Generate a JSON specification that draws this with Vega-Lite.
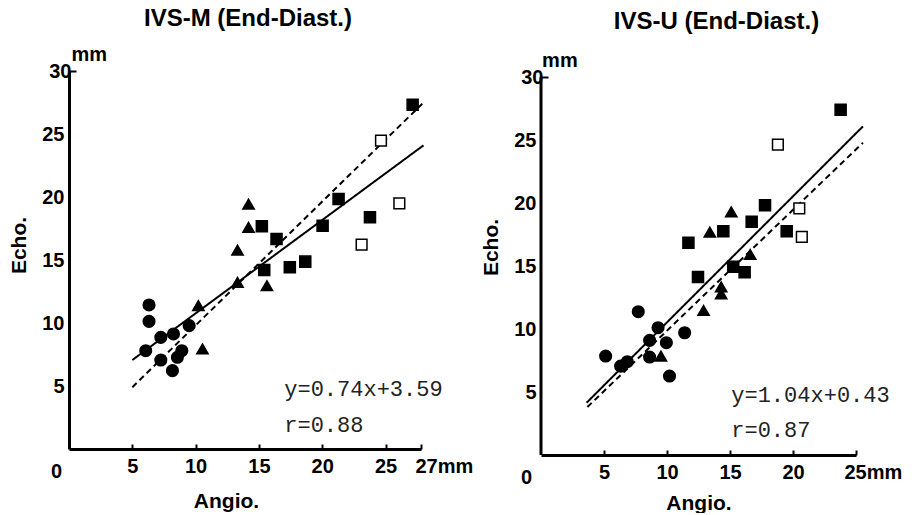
{
  "$schema": "https://vega.github.io/schema/vega-lite/v6.json",
  "background": "white",
  "padding": {"left": 8, "top": 6, "right": 0, "bottom": 0},
  "spacing": 7,
  "config": {
    "view": {"stroke": null},
    "font": "Liberation Sans",
    "axis": {
      "grid": false,
      "domainColor": "black",
      "domainWidth": 3,
      "tickColor": "black",
      "tickWidth": 2,
      "labelFont": "Liberation Sans",
      "labelFontWeight": "bold",
      "labelFontSize": 20,
      "labelColor": "black",
      "titleFont": "Liberation Sans",
      "titleFontWeight": "bold",
      "titleFontSize": 21,
      "titleColor": "black",
      "labelOverlap": false,
      "labelFlush": false,
      "labelBound": false
    },
    "title": {"font": "Liberation Sans", "fontSize": 24, "fontWeight": "bold", "color": "black", "anchor": "middle"}
  },
  "datasets": {
    "leftPts": [
      {"g": "circle", "x": 6.32, "y": 11.43},
      {"g": "circle", "x": 6.32, "y": 10.13},
      {"g": "circle", "x": 6.06, "y": 7.8},
      {"g": "circle", "x": 7.25, "y": 8.86},
      {"g": "circle", "x": 7.25, "y": 7.06},
      {"g": "circle", "x": 8.25, "y": 9.13},
      {"g": "circle", "x": 8.17, "y": 6.22},
      {"g": "circle", "x": 8.56, "y": 7.28},
      {"g": "circle", "x": 8.91, "y": 7.8},
      {"g": "circle", "x": 9.49, "y": 9.79},
      {"g": "triangle", "x": 10.22, "y": 11.38},
      {"g": "triangle", "x": 10.54, "y": 7.94},
      {"g": "triangle", "x": 13.31, "y": 13.23},
      {"g": "triangle", "x": 13.31, "y": 15.79},
      {"g": "triangle", "x": 14.18, "y": 17.59},
      {"g": "triangle", "x": 14.18, "y": 19.44},
      {"g": "triangle", "x": 15.63, "y": 12.96},
      {"g": "square", "x": 15.23, "y": 17.67},
      {"g": "square", "x": 16.39, "y": 16.67},
      {"g": "square", "x": 15.42, "y": 14.21},
      {"g": "square", "x": 17.44, "y": 14.42},
      {"g": "square", "x": 18.66, "y": 14.87},
      {"g": "square", "x": 20.03, "y": 17.72},
      {"g": "square", "x": 21.29, "y": 19.84},
      {"g": "square", "x": 23.77, "y": 18.39},
      {"g": "square", "x": 27.14, "y": 27.33},
      {"g": "open", "x": 24.64, "y": 24.47},
      {"g": "open", "x": 26.09, "y": 19.5},
      {"g": "open", "x": 23.11, "y": 16.22}
    ],
    "rightPts": [
      {"g": "circle", "x": 5.13, "y": 7.86},
      {"g": "circle", "x": 6.32, "y": 7.06},
      {"g": "circle", "x": 6.85, "y": 7.41},
      {"g": "circle", "x": 7.72, "y": 11.38},
      {"g": "circle", "x": 8.62, "y": 9.1},
      {"g": "circle", "x": 8.62, "y": 7.78},
      {"g": "circle", "x": 9.29, "y": 10.11},
      {"g": "circle", "x": 9.95, "y": 8.92},
      {"g": "circle", "x": 10.2, "y": 6.27},
      {"g": "circle", "x": 11.4, "y": 9.71},
      {"g": "triangle", "x": 9.52, "y": 7.86},
      {"g": "triangle", "x": 12.9, "y": 11.48},
      {"g": "triangle", "x": 14.3, "y": 13.36},
      {"g": "triangle", "x": 14.3, "y": 12.8},
      {"g": "triangle", "x": 13.4, "y": 17.7},
      {"g": "triangle", "x": 15.1, "y": 19.31},
      {"g": "triangle", "x": 16.6, "y": 15.93},
      {"g": "square", "x": 11.7, "y": 16.85},
      {"g": "square", "x": 12.46, "y": 14.13},
      {"g": "square", "x": 14.47, "y": 17.78},
      {"g": "square", "x": 15.26, "y": 14.95},
      {"g": "square", "x": 16.16, "y": 14.52},
      {"g": "square", "x": 16.72, "y": 18.52},
      {"g": "square", "x": 17.78, "y": 19.84},
      {"g": "square", "x": 19.5, "y": 17.78},
      {"g": "square", "x": 23.78, "y": 27.43},
      {"g": "open", "x": 18.8, "y": 24.66},
      {"g": "open", "x": 20.5, "y": 19.58},
      {"g": "open", "x": 20.7, "y": 17.33}
    ],
    "leftLines": [
      {"kind": "fit", "x": 5, "y": 7.06},
      {"kind": "fit", "x": 28.0, "y": 24.1},
      {"kind": "identity", "x": 5, "y": 4.9},
      {"kind": "identity", "x": 27.9, "y": 27.4}
    ],
    "rightLines": [
      {"kind": "fit", "x": 3.62, "y": 4.15},
      {"kind": "fit", "x": 25.55, "y": 26.1},
      {"kind": "identity", "x": 3.68, "y": 3.81},
      {"kind": "identity", "x": 25.55, "y": 24.8}
    ],
    "leftText": [
      {"x": 17.0, "y": 4.76, "t": "y=0.74x+3.59"},
      {"x": 17.0, "y": 1.9, "t": "r=0.88"}
    ],
    "rightText": [
      {"x": 15.1, "y": 4.76, "t": "y=1.04x+0.43"},
      {"x": 15.1, "y": 1.98, "t": "r=0.87"}
    ],
    "leftUnit": [{"x": 1.6, "y": 31.3, "t": "mm"}],
    "rightUnit": [{"x": 1.5, "y": 31.3, "t": "mm"}],
    "rightAxisLine": [{"x": 0, "y": 0, "y2": 30}]
  },
  "hconcat": [
    {
      "width": 352,
      "height": 378,
      "title": {"text": "IVS-M (End-Diast.)", "offset": 14, "dx": 3},
      "layer": [
        {
          "data": {"name": "leftLines"},
          "mark": {"type": "line", "color": "black", "strokeWidth": 2, "clip": false},
          "encoding": {
            "x": {
              "field": "x", "type": "quantitative",
              "scale": {"domain": [0, 27.8], "nice": false, "zero": true},
              "axis": {
                "title": "Angio.",
                "titleX": 157,
                "values": [0, 5, 10, 15, 20, 25, 27.8],
                "labelExpr": "datum.value > 27 ? '27mm' : datum.label",
                "tickSize": {"condition": {"test": "datum.value == 0", "value": 0}, "value": -5},
                "labelPadding": 12,
                "labelAlign": {"condition": {"test": "datum.value > 27", "value": "left"}, "value": "center"},
                "labelOffset": {"condition": [{"test": "datum.value == 0", "value": -13}, {"test": "datum.value > 27", "value": -6}], "value": 0},
                "titlePadding": 9
              }
            },
            "y": {
              "field": "y", "type": "quantitative",
              "scale": {"domain": [0, 30], "nice": false, "zero": true},
              "axis": {
                "title": "Echo.",
                "titleY": 174,
                "values": [5, 10, 15, 20, 25, 30],
                "tickSize": {"condition": {"test": "datum.value == 30", "value": -7}, "value": 0},
                "labelPadding": 5,
                "titlePadding": 12
              }
            },
            "strokeDash": {"field": "kind", "type": "nominal", "scale": {"domain": ["fit", "identity"], "range": [[1, 0], [6, 4]]}, "legend": null}
          }
        },
        {
          "data": {"name": "leftPts"},
          "mark": {"type": "point", "filled": true, "stroke": "black", "strokeWidth": 1.5, "opacity": 1},
          "encoding": {
            "x": {"field": "x", "type": "quantitative"},
            "y": {"field": "y", "type": "quantitative"},
            "shape": {"field": "g", "type": "nominal", "scale": {"domain": ["circle", "triangle", "square", "open"], "range": ["circle", "triangle-up", "square", "square"]}, "legend": null},
            "fill": {"field": "g", "type": "nominal", "scale": {"domain": ["circle", "triangle", "square", "open"], "range": ["black", "black", "black", "white"]}, "legend": null},
            "size": {"field": "g", "type": "ordinal", "scale": {"domain": ["circle", "triangle", "square", "open"], "range": [135, 115, 150, 130]}, "legend": null}
          }
        },
        {
          "data": {"name": "leftText"},
          "mark": {"type": "text", "align": "left", "baseline": "middle", "font": "Liberation Mono", "fontSize": 22, "color": "#222"},
          "encoding": {
            "x": {"field": "x", "type": "quantitative"},
            "y": {"field": "y", "type": "quantitative"},
            "text": {"field": "t"}
          }
        },
        {
          "data": {"name": "leftUnit"},
          "mark": {"type": "text", "align": "center", "baseline": "middle", "font": "Liberation Sans", "fontWeight": "bold", "fontSize": 20, "color": "black"},
          "encoding": {
            "x": {"field": "x", "type": "quantitative"},
            "y": {"field": "y", "type": "quantitative"},
            "text": {"field": "t"}
          }
        }
      ]
    },
    {
      "width": 315,
      "height": 384,
      "title": {"text": "IVS-U (End-Diast.)", "offset": 17, "dx": 18},
      "layer": [
        {
          "data": {"name": "rightLines"},
          "mark": {"type": "line", "color": "black", "strokeWidth": 2, "clip": false},
          "encoding": {
            "x": {
              "field": "x", "type": "quantitative",
              "scale": {"domain": [0, 25], "nice": false, "zero": true},
              "axis": {
                "title": "Angio.",
                "values": [0, 5, 10, 15, 20, 25],
                "labelExpr": "datum.value == 25 ? '25mm' : datum.label",
                "tickSize": {"condition": {"test": "datum.value == 0", "value": 0}, "value": -5},
                "labelPadding": 12,
                "labelAlign": {"condition": {"test": "datum.value == 25", "value": "left"}, "value": "center"},
                "labelOffset": {"condition": [{"test": "datum.value == 0", "value": -15}, {"test": "datum.value == 25", "value": -12}], "value": 0},
                "titlePadding": 5
              }
            },
            "y": {
              "field": "y", "type": "quantitative",
              "scale": {"domain": [0, 30.5], "nice": false, "zero": true},
              "axis": {
                "title": "Echo.",
                "titleY": 176,
                "domain": false,
                "values": [5, 10, 15, 20, 25, 30],
                "tickSize": {"condition": {"test": "datum.value == 30", "value": -7}, "value": 0},
                "labelPadding": 5,
                "titlePadding": 12
              }
            },
            "strokeDash": {"field": "kind", "type": "nominal", "scale": {"domain": ["fit", "identity"], "range": [[1, 0], [6, 4]]}, "legend": null}
          }
        },
        {
          "data": {"name": "rightAxisLine"},
          "mark": {"type": "rule", "color": "black", "strokeWidth": 3},
          "encoding": {
            "x": {"field": "x", "type": "quantitative"},
            "y": {"field": "y", "type": "quantitative"},
            "y2": {"field": "y2"}
          }
        },
        {
          "data": {"name": "rightPts"},
          "mark": {"type": "point", "filled": true, "stroke": "black", "strokeWidth": 1.5, "opacity": 1},
          "encoding": {
            "x": {"field": "x", "type": "quantitative"},
            "y": {"field": "y", "type": "quantitative"},
            "shape": {"field": "g", "type": "nominal", "scale": {"domain": ["circle", "triangle", "square", "open"], "range": ["circle", "triangle-up", "square", "square"]}, "legend": null},
            "fill": {"field": "g", "type": "nominal", "scale": {"domain": ["circle", "triangle", "square", "open"], "range": ["black", "black", "black", "white"]}, "legend": null},
            "size": {"field": "g", "type": "ordinal", "scale": {"domain": ["circle", "triangle", "square", "open"], "range": [135, 115, 150, 130]}, "legend": null}
          }
        },
        {
          "data": {"name": "rightText"},
          "mark": {"type": "text", "align": "left", "baseline": "middle", "font": "Liberation Mono", "fontSize": 22, "color": "#222"},
          "encoding": {
            "x": {"field": "x", "type": "quantitative"},
            "y": {"field": "y", "type": "quantitative"},
            "text": {"field": "t"}
          }
        },
        {
          "data": {"name": "rightUnit"},
          "mark": {"type": "text", "align": "center", "baseline": "middle", "font": "Liberation Sans", "fontWeight": "bold", "fontSize": 20, "color": "black"},
          "encoding": {
            "x": {"field": "x", "type": "quantitative"},
            "y": {"field": "y", "type": "quantitative"},
            "text": {"field": "t"}
          }
        }
      ]
    }
  ],
  "resolve": {"scale": {"shape": "independent", "fill": "independent", "size": "independent", "strokeDash": "independent"}}
}
